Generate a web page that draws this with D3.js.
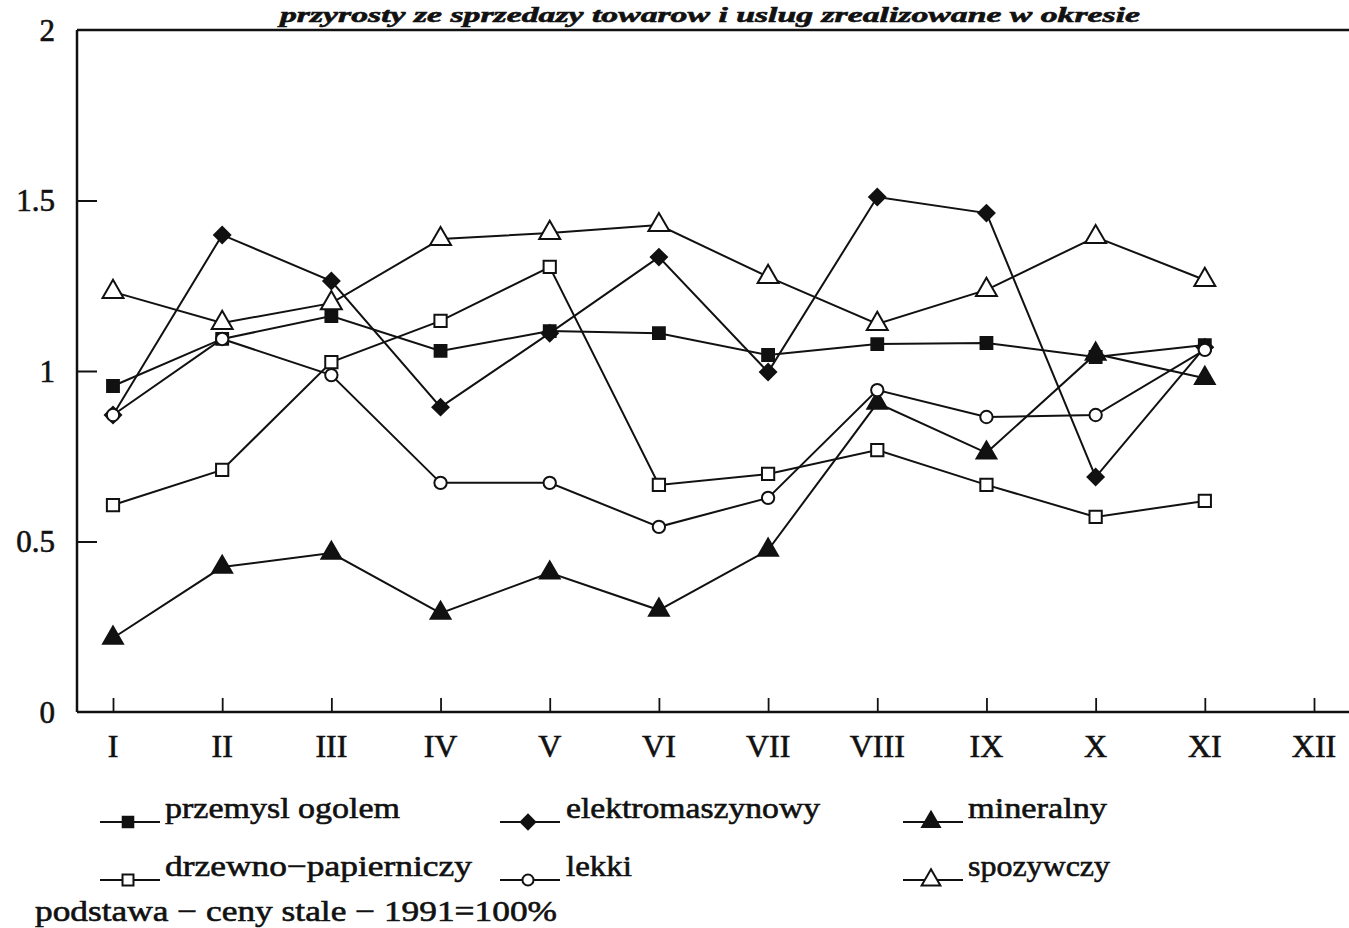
<!DOCTYPE html>
<html><head><meta charset="utf-8">
<script src="https://cdn.jsdelivr.net/npm/d3@7"></script>
<style>
html,body{margin:0;padding:0;background:#fff;}
svg{display:block;}
text{fill:#111;stroke:#111;stroke-width:0.6px;}
</style></head>
<body>
<svg id="c" width="1349" height="928" font-family="'Liberation Serif', 'Times New Roman', serif"></svg>
<script>
const months = ["I","II","III","IV","V","VI","VII","VIII","IX","X","XI","XII"];
const yTicks = [0, 0.5, 1, 1.5, 2];
const yTickLabels = ["0","0.5","1","1.5","2"];

const przemysl = [0.956,1.094,1.161,1.059,1.117,1.111,1.047,1.079,1.082,1.041,1.076];
const elektro = [0.871,1.399,1.264,0.894,1.111,1.334,0.997,1.510,1.463,0.689,1.070];
const mineralny = [0.217,0.425,0.466,0.290,0.408,0.299,0.475,0.906,0.760,1.050,0.979];
const drzewno = [0.607,0.710,1.026,1.147,1.305,0.666,0.698,0.768,0.666,0.572,0.619];
const lekki = [0.871,1.094,0.988,0.672,0.672,0.543,0.628,0.944,0.865,0.871,1.062];
const spozywczy = [1.232,1.141,1.199,1.387,1.405,1.428,1.276,1.138,1.238,1.393,1.267];

const seriesNames = ["przemysl ogolem","elektromaszynowy","mineralny","drzewno\u2212papierniczy","lekki","spozywczy"];
const titleText = "przyrosty ze sprzedazy towarow i uslug zrealizowane w okresie";
const footnote = "podstawa \u2212 ceny stale \u2212 1991=100%";

const series = [
  {name:seriesNames[0], values:przemysl, sym:d3.symbolSquare, size:140, fill:"#111", rot:0},
  {name:seriesNames[1], values:elektro, sym:d3.symbolSquare, size:130, fill:"#111", rot:45},
  {name:seriesNames[2], values:mineralny, sym:d3.symbolTriangle, size:170, fill:"#111", rot:0},
  {name:seriesNames[3], values:drzewno, sym:d3.symbolSquare, size:150, fill:"#fff", rot:0},
  {name:seriesNames[4], values:lekki, sym:d3.symbolCircle, size:120, fill:"#fff", rot:0},
  {name:seriesNames[5], values:spozywczy, sym:d3.symbolTriangle, size:190, fill:"#fff", rot:0}
];

const svg = d3.select("#c");
const x = d3.scalePoint().domain(months).range([113, 1314]);
const y = d3.scaleLinear().domain([0, 2]).range([712, 30]);
const X0 = 77, XR = 1349;

svg.append("text").attr("x", 280).attr("y", 22)
  .attr("font-size", 21).attr("font-weight", "bold").attr("font-style","italic")
  .attr("textLength", 860).attr("lengthAdjust","spacingAndGlyphs")
  .text(titleText);

svg.append("line").attr("x1", X0).attr("x2", XR).attr("y1", y(2)).attr("y2", y(2)).attr("stroke","#111").attr("stroke-width",2.5);

const yAxis = d3.axisRight(y).tickValues(yTicks.slice(1,4)).tickSize(20).tickFormat("");
const ga = svg.append("g").attr("transform",`translate(${X0},0)`).call(yAxis);
ga.select(".domain").remove();
ga.selectAll(".tick line").attr("stroke","#111").attr("stroke-width",2);
svg.append("line").attr("x1", X0).attr("x2", X0).attr("y1", y(2)).attr("y2", y(0)).attr("stroke","#111").attr("stroke-width",2.5);

yTicks.forEach((v,i)=>{
  svg.append("text").attr("x", 55).attr("y", y(v)).attr("dy","0.35em")
    .attr("text-anchor","end").attr("font-size",31).text(yTickLabels[i]);
});

const xAxis = d3.axisTop(x).tickSize(14).tickFormat("");
const gx = svg.append("g").attr("transform",`translate(0,${y(0)})`).call(xAxis);
gx.select(".domain").remove();
gx.selectAll(".tick line").attr("stroke","#111").attr("stroke-width",1.8);
svg.append("line").attr("x1", X0).attr("x2", XR).attr("y1", y(0)).attr("y2", y(0)).attr("stroke","#111").attr("stroke-width",2.5);

months.forEach(m=>{
  svg.append("text").attr("x", x(m)).attr("y", 757).attr("text-anchor","middle")
    .attr("font-size",32).text(m);
});

const line = d3.line().x((d,i)=>x(months[i])).y(d=>y(d));
series.forEach(s=>{
  svg.append("path").attr("d", line(s.values)).attr("fill","none")
    .attr("stroke","#111").attr("stroke-width",2);
});
series.forEach(s=>{
  const sym = d3.symbol().type(s.sym).size(s.size);
  svg.append("g").selectAll("path").data(s.values).join("path")
    .attr("d", sym)
    .attr("transform",(d,i)=>`translate(${x(months[i])},${y(d)}) rotate(${s.rot})`)
    .attr("fill", s.fill).attr("stroke","#111").attr("stroke-width",2);
});

const legPos = [
  {lx:100, ty:818, tx:165, tl:235},
  {lx:500, ty:818, tx:566, tl:254},
  {lx:903, ty:818, tx:968, tl:139},
  {lx:100, ty:876, tx:165, tl:307},
  {lx:500, ty:876, tx:566, tl:66},
  {lx:903, ty:876, tx:968, tl:142}
];
series.forEach((s,i)=>{
  const p = legPos[i];
  const ly = p.ty + 4;
  svg.append("line").attr("x1", p.lx).attr("x2", p.lx+60).attr("y1", ly).attr("y2", ly)
    .attr("stroke","#111").attr("stroke-width",2);
  svg.append("path").attr("d", d3.symbol().type(s.sym).size(s.size*0.8)())
    .attr("transform",`translate(${p.lx+28},${ly}) rotate(${s.rot})`)
    .attr("fill", s.fill).attr("stroke","#111").attr("stroke-width",2);
  svg.append("text").attr("x", p.tx).attr("y", p.ty).attr("font-size",30)
    .attr("textLength", p.tl).attr("lengthAdjust","spacingAndGlyphs").text(s.name);
});
svg.append("text").attr("x", 35).attr("y", 921).attr("font-size",30)
  .attr("textLength", 522).attr("lengthAdjust","spacingAndGlyphs").text(footnote);
</script>
</body></html>
